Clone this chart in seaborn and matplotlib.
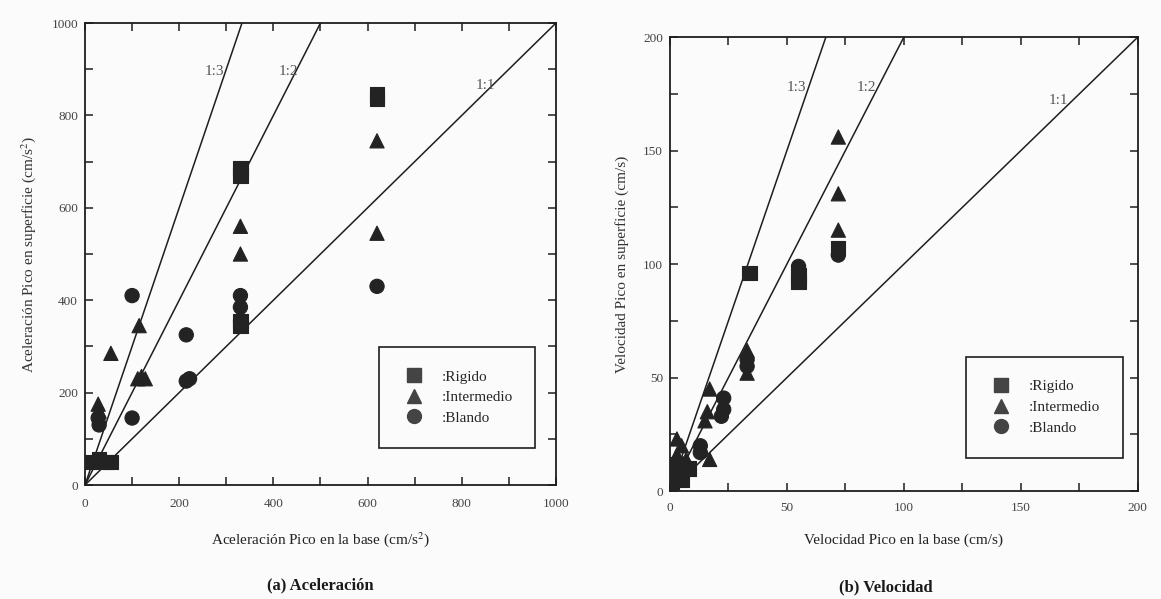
import numpy as np
import pandas as pd
import matplotlib
matplotlib.use("Agg")
import matplotlib.pyplot as plt
from matplotlib.lines import Line2D
from matplotlib.ticker import MultipleLocator
import seaborn as sns

# ---- Peak acceleration (cm/s^2): base vs surface ----
acc_rig_x = [15, 30, 45, 55, 330, 330, 330, 330, 620, 620]
acc_rig_y = [50, 55, 50, 50, 685, 670, 355, 345, 845, 835]
acc_int_x = [28, 30, 55, 115, 112, 128, 120, 330, 330, 330, 620, 620]
acc_int_y = [175, 160, 285, 345, 230, 230, 235, 560, 500, 370, 745, 545]
acc_bla_x = [28, 30, 100, 100, 215, 215, 222, 330, 330, 620]
acc_bla_y = [145, 130, 410, 145, 325, 225, 230, 410, 385, 430]

# ---- Peak velocity (cm/s): base vs surface ----
vel_rig_x = [1, 2, 4, 5, 8, 3, 34, 55, 55, 72]
vel_rig_y = [3, 10, 8, 5, 10, 12, 96, 95, 92, 107]
vel_int_x = [3, 3, 5, 17, 16, 15, 17, 33, 33, 72, 72, 72, 2, 7]
vel_int_y = [23, 16, 20, 45, 35, 31, 14, 62, 52, 156, 131, 115, 13, 14]
vel_bla_x = [13, 13, 23, 23, 22, 33, 33, 55, 72, 5]
vel_bla_y = [20, 17, 41, 36, 33, 58, 55, 99, 104, 12]

classes = [":Rigido", ":Intermedio", ":Blando"]
ratios = [1, 2, 3]
ratio_labels = ["1:1", "1:2", "1:3"]


def frame(xs, ys):
    rows = []
    for name, x, y in zip(classes, xs, ys):
        rows.append(pd.DataFrame({"base": x, "sup": y, "suelo": name}))
    return pd.concat(rows, ignore_index=True)


acc_df = frame([acc_rig_x, acc_int_x, acc_bla_x], [acc_rig_y, acc_int_y, acc_bla_y])
vel_df = frame([vel_rig_x, vel_int_x, vel_bla_x], [vel_rig_y, vel_int_y, vel_bla_y])

sns.set_style("ticks")
plt.rcParams["font.family"] = ["Liberation Serif", "DejaVu Serif"]
plt.rcParams["mathtext.fontset"] = "stix"

marker_map = {":Rigido": "s", ":Intermedio": "^", ":Blando": "o"}
ink = "#1e1e1e"

fig = plt.figure(figsize=(11.61, 5.99), dpi=100)
fig.patch.set_facecolor("#fbfbfb")
ax1 = fig.add_axes([0.0732, 0.1903, 0.4057, 0.7713])
ax2 = fig.add_axes([0.577, 0.180, 0.403, 0.758])


def style_axes(ax, lim, major, minor, xlabel, ylabel, ticklabels, xpad, xlabel_y):
    ax.set_facecolor("#fbfbfb")
    ax.set_xlim(0, lim)
    ax.set_ylim(0, lim)
    ax.xaxis.set_major_locator(MultipleLocator(major))
    ax.yaxis.set_major_locator(MultipleLocator(major))
    ax.xaxis.set_minor_locator(MultipleLocator(minor))
    ax.yaxis.set_minor_locator(MultipleLocator(minor))
    ax.set_xticks(np.arange(0, lim + 1, major))
    ax.set_xticklabels(ticklabels)
    ax.tick_params(which="both", direction="in", top=True, right=True,
                   length=6, width=1.1, colors=ink, labelsize=9.5,
                   labelcolor="#444444", pad=5)
    ax.tick_params(axis="x", which="major", pad=xpad)
    for s in ax.spines.values():
        s.set_visible(True)
        s.set_linewidth(1.3)
        s.set_color(ink)
    ax.set_xlabel(xlabel, fontsize=11, color="#222222")
    ax.xaxis.set_label_coords(0.5, xlabel_y)
    ax.set_ylabel(ylabel, fontsize=11, color="#333333", labelpad=10)


def draw(ax, df, lim, label_pos, legend_anchor):
    for k in ratios:
        ax.axline((0, 0), slope=k, color=ink, lw=1.1, zorder=1)
    for lab, (lx, ly) in zip(ratio_labels, label_pos):
        ax.text(lx, ly, lab, fontsize=11, color="#555555", ha="center", va="center")
    sns.scatterplot(data=df, x="base", y="sup", style="suelo", markers=marker_map,
                    color="#232323", s=105, edgecolor="#232323", linewidth=0.8,
                    legend=False, ax=ax, zorder=3)
    handles = [Line2D([], [], linestyle="none", marker=marker_map[c], markersize=10,
                      markerfacecolor="#444444", markeredgecolor="#444444") for c in classes]
    leg = ax.legend(handles, classes, loc="center", bbox_to_anchor=legend_anchor,
                    frameon=True, fancybox=False, edgecolor=ink, framealpha=1,
                    fontsize=11, handletextpad=1.0, borderpad=1.5,
                    handlelength=1.6, labelspacing=0.45, borderaxespad=0)
    leg.get_frame().set_linewidth(1.2)
    leg.get_frame().set_facecolor("#fbfbfb")


draw(ax1, acc_df, 1000, [(851, 865), (431, 895), (275, 895)], (0.79, 0.19))
style_axes(ax1, 1000, 200, 100,
           r"Aceleración Pico en la base (cm/s$^{2}$)",
           r"Aceleración Pico en superficie (cm/s$^{2}$)",
           ["0", "200", "400", "600", "800", "1000"], 9, -0.097)

draw(ax2, vel_df, 200, [(166, 172), (84, 178), (54, 178)], (0.80, 0.185))
style_axes(ax2, 200, 50, 25,
           "Velocidad Pico en la base (cm/s)",
           "Velocidad Pico en superficie (cm/s)",
           ["0", "50", "100", "150", "200"], 8, -0.0925)

fig.text(0.276, 0.023, "(a) Aceleración", ha="center", va="center",
         fontsize=12, fontweight="bold", color="#1a1a1a")
fig.text(0.763, 0.019, "(b) Velocidad", ha="center", va="center",
         fontsize=12, fontweight="bold", color="#1a1a1a")

fig.savefig("out.png", dpi=100, facecolor=fig.get_facecolor())
